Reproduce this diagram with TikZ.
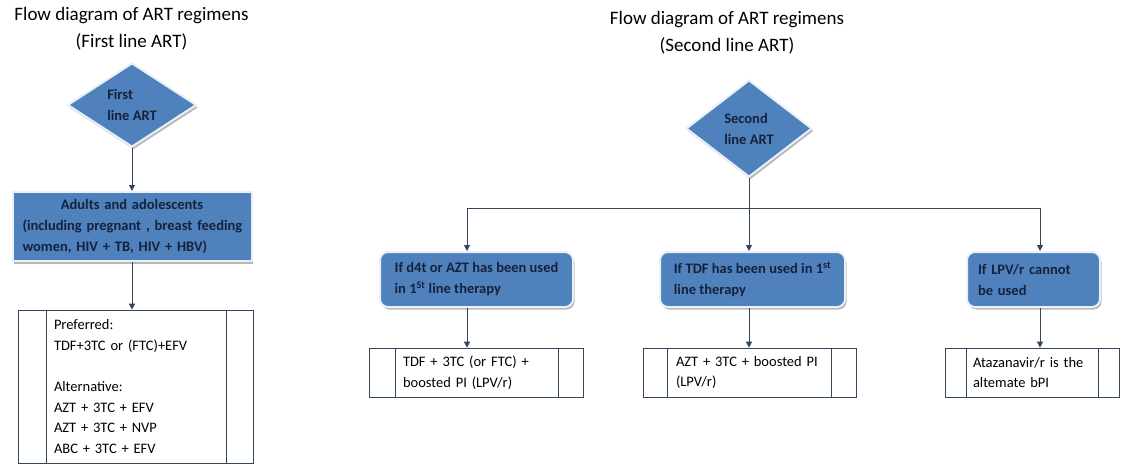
\documentclass[tikz,border=0pt]{standalone}
\usepackage{fontspec}
\setmainfont{Carlito}
\usetikzlibrary{positioning,arrows.meta,shapes.geometric,shadows}
\definecolor{artBlue}{HTML}{4F81BD}
\definecolor{artInk}{HTML}{16223C}
\definecolor{artLine}{HTML}{34465C}
\tikzset{
  node distance=40pt,
  heading/.style={font=\fontsize{19}{27}\selectfont, align=center, text=black},
  lifted/.style={drop shadow={shadow xshift=1.5pt, shadow yshift=-2.5pt, fill=black!40, opacity=.7}},
  decision/.style={diamond, draw=white!88!artBlue, line width=2pt, fill=artBlue, lifted,
                   inner sep=0pt, font=\fontsize{14.5}{21}\selectfont\bfseries, text=artInk, align=left},
  group/.style={rectangle, draw=white!88!artBlue, line width=2pt, fill=artBlue, lifted,
                font=\fontsize{14.5}{21}\selectfont\bfseries, text=artInk, inner xsep=10pt},
  cond/.style={group, rounded corners=8pt, align=left, minimum height=55pt, inner xsep=11pt},
  regimen/.style={rectangle, draw=artLine, line width=0.7pt, fill=white, align=left,
                  font=\fontsize{14.5}{20.7}\selectfont, text=black},
  rule/.style={draw=artLine, line width=0.7pt},
  flow/.style={-{Triangle[length=6pt,width=6pt]}, line width=0.8pt, artLine},
  link/.style={line width=0.8pt, artLine},
}

\begin{document}
\begin{tikzpicture}[x=1pt, y=-1pt]
  \useasboundingbox (0,0) rectangle (1131,474);

  % first line ART
  \node[heading] (head1) at (131.5,28.5) {Flow diagram of ART regimens\\(First line ART)};
  \node[decision, minimum width=129pt, minimum height=84pt] (d1) at (132,105) {First\\line ART};
  \node[group, minimum width=239pt, minimum height=69pt, inner xsep=8pt, below=43pt of d1,
        align=left, text width=223pt] (adult)
    {\makebox[223pt]{Adults and adolescents}\\\hspace*{2pt}(including pregnant , breast feeding\\\hspace*{2pt}women, HIV + TB, HIV + HBV)};
  \node[regimen, minimum width=235pt, minimum height=153pt, inner xsep=36pt, text width=163pt] (pref)
    at (135.5,386.5)
    {Preferred:\\TDF+3TC or (FTC)+EFV\\[20.7pt]Alternative:\\
     AZT + 3TC + EFV\\AZT + 3TC + NVP\\ABC + 3TC + EFV};

  \draw[flow] (d1) -- (adult);
  \draw[flow] (adult.south) -- (adult.south |- pref.north);

  % second line ART
  \node[heading] (head2) at (727,33) {Flow diagram of ART regimens\\(Second line ART)};
  \node[decision, minimum width=126pt, minimum height=97pt] (d2) at (749,128.5) {Second\\line ART};
  \coordinate (split) at (749,208);

  \node[cond, minimum width=193pt] (ifA) at (476.5,279.5)
    {If d4t or AZT has been used\\in 1\textsuperscript{St} line therapy};
  \node[cond, minimum width=185pt] (ifB) at (752.5,279.5)
    {If TDF has been used in 1\textsuperscript{st}\\line therapy};
  \node[cond, minimum width=133pt, text width=111pt] (ifC) at (1033.5,279.5)
    {If LPV/r cannot\\be used};

  \node[regimen, minimum width=214pt, minimum height=49pt, inner xsep=34pt, text width=146pt] (regA) at (476,372.5)
    {TDF + 3TC (or FTC) +\\boosted PI (LPV/r)};
  \node[regimen, minimum width=213pt, minimum height=49pt, inner xsep=33pt, text width=147pt] (regB) at (749.5,372.5)
    {AZT + 3TC + boosted PI\\(LPV/r)};
  \node[regimen, minimum width=174pt, minimum height=49pt, inner xsep=28pt, text width=118pt] (regC) at (1032,372.5)
    {Atazanavir/r is the\\altemate bPI};

  \draw[link] (d2) -- (split);
  \draw[flow] (split) -| ([xshift=-9.5pt]ifA.north);
  \draw[flow] (split) -- ([xshift=-3.5pt]ifB.north);
  \draw[flow] (split) -| ([xshift=6.5pt]ifC.north);
  \draw[flow] ([xshift=-9.5pt]ifA.south) -- ([xshift=-9pt]regA.north);
  \draw[flow] ([xshift=-3.5pt]ifB.south) -- ([xshift=-0.5pt]regB.north);
  \draw[flow] ([xshift=6.5pt]ifC.south) -- ([xshift=8pt]regC.north);

  % side bars of the regimen boxes
  \foreach \b/\l/\r in {pref/29/27, regA/27/25, regB/25/25, regC/22/21} {
    \draw[rule] ([xshift=\l]\b.north west) -- ([xshift=\l]\b.south west);
    \draw[rule] ([xshift=-\r]\b.north east) -- ([xshift=-\r]\b.south east);
  }
\end{tikzpicture}
\end{document}
